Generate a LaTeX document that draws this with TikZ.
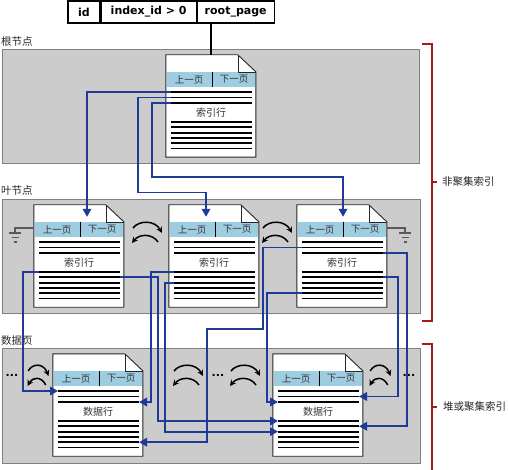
\documentclass[tikz,border=0pt]{standalone}
\usepackage{fontspec}
\setmainfont{DejaVu Sans}
\newfontfamily\cjk{Noto Sans CJK SC}
\usetikzlibrary{arrows.meta, positioning, calc}
\definecolor{bandgray}{RGB}{204,204,204}
\definecolor{bandedge}{RGB}{128,128,128}
\definecolor{headblue}{RGB}{158,204,224}
\definecolor{linkblue}{RGB}{32,58,152}
\definecolor{bracketred}{RGB}{170,24,24}
\definecolor{earthgray}{RGB}{90,90,90}

% page with folded corner: name, left, top, body text
\newcommand{\docpage}[4]{%
  \node[pagebox] (#1) at (#2+45,#3+51) {};
  \draw[pageline, fill=white] (#1.north west) -- ++(72,0) -- ++(18,17) |- (#1.south west) -- cycle;
  \fill[headblue] (#2+0.7,#3+17) rectangle (#2+89.3,#3+32);
  \draw[pageline] (#2+72,#3) |- (#2+90,#3+17);
  \draw[semithick] (#2+46,#3+17) -- (#2+46,#3+32);
  \node[hdr] at (#2+23,#3+24.5) {上一页};
  \node[hdr] at (#2+68,#3+24.5) {下一页};
  \node[body] at (#2+45,#3+57.5) {#4};
  \coordinate (#1-h) at (#2,#3+23);
  \foreach \r [count=\i] in {37,42.5,48,67,72.3,77.6,82.9,88.2,93.5}
    \draw[rowline] (#2+5,#3+\r) coordinate (#1-l\i) -- (#2+86,#3+\r) coordinate (#1-r\i);
}

\begin{document}
\begin{tikzpicture}[
    x=1pt, y=-1pt,
    band/.style={rectangle, draw=bandedge, fill=bandgray, line width=0.9pt, inner sep=0pt},
    pagebox/.style={rectangle, minimum width=90pt, minimum height=102pt, inner sep=0pt},
    pageline/.style={draw=black!85, line width=0.9pt},
    rowline/.style={black, line width=1.9pt},
    hdr/.style={font=\cjk\fontsize{9.5}{10}\selectfont, text=black!80, inner sep=0pt},
    body/.style={font=\cjk\fontsize{10}{11}\selectfont, text=black!80, inner sep=0pt},
    cell/.style={rectangle, draw=black, line width=1.1pt, minimum height=22pt, inner sep=0pt, font=\bfseries\fontsize{11}{12}\selectfont},
    side/.style={font=\cjk\fontsize{10.5}{12}\selectfont, text=black!85, anchor=west, inner sep=0pt},
    dots/.style={font=\bfseries\fontsize{11}{12}\selectfont, inner sep=0pt},
    link/.style={linkblue, line width=1.8pt, -{Triangle[length=8pt,width=8.5pt]}},
    swaparrow/.style={black, line width=1.5pt, -{Stealth[length=6pt,width=6pt]}},
    earth/.style={earthgray, line width=1.2pt},
    brace/.style={bracketred, line width=1.3pt},
    swap/.pic={
      \draw[swaparrow] (-14,-5) .. controls (-8,-13) and (8,-13) .. (15,0);
      \draw[swaparrow] (11,9) .. controls (5,0) and (-8,1) .. (-15,10);
    },
    ground/.pic={
      \draw[earth] (-6,0) -- (6,0) (-3.5,4.5) -- (3.5,4.5) (-1.5,9) -- (1.5,9);
    }
]
\useasboundingbox (0,0) rectangle (508,470);

% Bands
\node[band, minimum width=417pt, minimum height=114pt] (rootband) at (210.5,106) {};
\node[band, minimum width=418pt, minimum height=114pt] (leafband) at (211,256) {};
\node[band, minimum width=418pt, minimum height=115pt] (databand) at (211,405.5) {};
\node[side] (lblroot) at (1,42) {根节点};
\node[side] (lblleaf) at (1,191) {叶节点};
\node[side] (lbldata) at (1,341) {数据页};

% Table row
\node[cell, minimum width=32pt] (id) at (84,12) {id};
\node[cell, minimum width=95pt, right=0pt of id] (idx) {index\_id > 0};
\node[cell, minimum width=77pt, right=0pt of idx] (rootpg) {root\_page};

% Pages
\docpage{root}{166}{55}{索引行}
\docpage{leafA}{34}{205}{索引行}
\docpage{leafB}{169}{205}{索引行}
\docpage{leafC}{297}{205}{索引行}
\docpage{dataA}{53}{354}{数据行}
\docpage{dataB}{273}{354}{数据行}

\draw[line width=1.5pt] (root.north) -- (root.north |- rootpg.south);

% Page chains
\pic at (147,233) {swap};
\pic at (277,233) {swap};
\pic[xscale=0.7] at (38,376) {swap};
\pic at (188,376) {swap};
\pic at (245,376) {swap};
\pic[xscale=0.7] at (380,376) {swap};
\node[dots] (dotsA) at (12,375) {...};
\node[dots] (dotsB) at (218,375) {...};
\node[dots] (dotsC) at (409,375) {...};

% Ground ends
\coordinate (gndL) at (15,233);
\coordinate (gndR) at (405,233);
\draw[earth] (leafA-h) -| (gndL);
\draw[earth] (leafC.east |- leafC-h) -| (gndR);
\pic at (gndL) {ground};
\pic at (gndR) {ground};

% Root to leaves
\draw[link] (root-l1) -| ($(leafA.north)+(8,12)$);
\draw[link] (root-l2) -- ++(-33,0) -- ++(0,95) -| ($(leafB.north)+(-8,12)$);
\draw[link] (root-l3) -- ++(-19,0) -- ++(0,74) -| ($(leafC.north)+(1,12)$);

% Leaves to data pages
\draw[link] (leafA-l4) -- ++(-16,0) |- (dataA-l1);
\draw[link] (leafA-r5) -- ++(38,0) |- (dataB-l4);
\draw[link] (leafB-l4) -- ++(-23,0) |- (dataA-r3);
\draw[link] (leafB-l6) -- ++(-9,0) |- (dataB-l6);
\draw[link] (leafC-l2) -- ++(-39,0) |- ++(-56,81.5) |- (dataA-r8);
\draw[link] (leafC-l8) -- ++(-35,0) |- (dataB-l3);
\draw[link] (leafC-r3) -- ++(24,0) |- (dataB-r5);
\draw[link] (leafC-r5) -- ++(15,0) |- (dataB-r2);

% Brackets
\draw[brace] (422,44) -- (432,44) -- (432,321) -- (422,321);
\draw[brace] (432,182) -- (437,182);
\node[side] (nci) at (442,182) {非聚集索引};
\draw[brace] (422,344) -- (432,344) -- (432,471);
\draw[brace] (432,407) -- (437,407);
\node[side] (hci) at (443,407) {堆或聚集索引};

\end{tikzpicture}
\end{document}
